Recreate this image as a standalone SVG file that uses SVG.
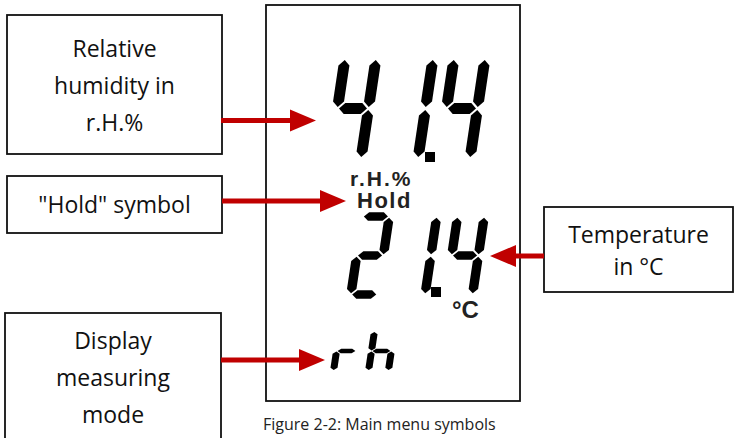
<svg xmlns="http://www.w3.org/2000/svg" xmlns:xlink="http://www.w3.org/1999/xlink" width="736" height="438" viewBox="0 0 736 438">
<style>
.box{fill:#fff;stroke:#111;stroke-width:1.8}
.lbl{font-family:"Open Sans","Liberation Sans",sans-serif;font-size:23px;fill:#111;text-anchor:middle}
.lcdt{font-family:"Liberation Sans","DejaVu Sans",sans-serif;font-weight:bold;fill:#222}
.cap{font-family:"Open Sans","Liberation Sans",sans-serif;font-size:16px;fill:#222}
.arr{stroke:#c00000;stroke-width:5;fill:none;marker-end:url(#head)}
.seg{fill:#000}
</style>
<defs>
<marker id="head" markerUnits="userSpaceOnUse" markerWidth="27" markerHeight="23" refX="0" refY="11" orient="auto" overflow="visible">
<path d="M0,0 L26,11 L0,22 Z" fill="#c00000"/>
</marker>
<path id="sa" class="seg" d="M7,-50 L12.5,-55.5 L29.5,-55.5 L35,-50 L29.5,-44.5 L12.5,-44.5Z"/>
<path id="sg" class="seg" d="M7,0 L12.5,-5.5 L29.5,-5.5 L35,0 L29.5,5.5 L12.5,5.5Z"/>
<path id="sd" class="seg" d="M7,50 L12.5,44.5 L29.5,44.5 L35,50 L29.5,55.5 L12.5,55.5Z"/>
<path id="sf" class="seg" d="M5.5,-48.5 L11,-43 L11,-7 L5.5,-1.5 L0,-7 L0,-43Z"/>
<path id="se" class="seg" d="M5.5,1.5 L11,7 L11,43 L5.5,48.5 L0,43 L0,7Z"/>
<path id="sb" class="seg" d="M36.5,-48.5 L42,-43 L42,-7 L36.5,-1.5 L31,-7 L31,-43Z"/>
<path id="sc" class="seg" d="M36.5,1.5 L42,7 L42,43 L36.5,48.5 L31,43 L31,7Z"/>
</defs>
<rect width="736" height="438" fill="#fff"/>

<g id="lcd">
<rect x="266" y="5" width="254" height="396" class="box"/>
<g id="hum-digits">
<g transform="translate(332,108.5) skewX(-8.5)"><use href="#sf"/><use href="#sb"/><use href="#sg"/><use href="#sc"/></g>
<g transform="translate(389,108.5) skewX(-8.5)"><use href="#sb"/><use href="#sc"/></g>
<rect x="425" y="152" width="10" height="10" class="seg"/>
<g transform="translate(441,108.5) skewX(-8.5)"><use href="#sf"/><use href="#sb"/><use href="#sg"/><use href="#sc"/></g>
</g>
<text x="350" y="186" class="lcdt" font-size="21" letter-spacing="2">r.H.%</text>
<text x="357" y="208" class="lcdt" font-size="22" letter-spacing="1.5">Hold</text>
<g id="temp-digits">
<g transform="translate(352,255.5) skewX(-8.5) scale(0.86,0.78)"><use href="#sa"/><use href="#sb"/><use href="#sg"/><use href="#se"/><use href="#sd"/></g>
<g transform="translate(399.5,255.5) skewX(-8.5) scale(0.86,0.78)"><use href="#sb"/><use href="#sc"/></g>
<rect x="431" y="287" width="10" height="10" class="seg"/>
<g transform="translate(447,255.5) skewX(-8.5) scale(0.86,0.78)"><use href="#sf"/><use href="#sb"/><use href="#sg"/><use href="#sc"/></g>
</g>
<text x="452" y="318" class="lcdt" font-size="24">°C</text>
<g id="mode-digits">
<g transform="translate(333,351) skewX(-8.5) scale(0.64,0.39)"><use href="#sg"/><use href="#se"/></g>
<g transform="translate(368,351) skewX(-8.5) scale(0.64,0.39)"><use href="#sf"/><use href="#sg"/><use href="#se"/><use href="#sc"/></g>
</g>
</g>

<g id="node-humidity">
<rect x="7" y="15" width="215" height="139" class="box"/>
<text class="lbl" x="114.5" y="57">Relative</text>
<text class="lbl" x="114.5" y="94">humidity in</text>
<text class="lbl" x="114.5" y="131">r.H.%</text>
</g>
<g id="node-hold">
<rect x="7" y="176" width="215" height="57" class="box"/>
<text class="lbl" x="114.5" y="213">"Hold" symbol</text>
</g>
<g id="node-temperature">
<rect x="544" y="207" width="189" height="85" class="box"/>
<text class="lbl" x="638.5" y="243">Temperature</text>
<text class="lbl" x="638.5" y="275">in °C</text>
</g>
<g id="node-mode">
<rect x="5" y="313" width="216" height="135" class="box"/>
<text class="lbl" x="113" y="349">Display</text>
<text class="lbl" x="113" y="386">measuring</text>
<text class="lbl" x="113" y="423">mode</text>
</g>

<g id="connectors">
<path class="arr" d="M221,120.5 H290"/>
<path class="arr" d="M222,201 H320"/>
<path class="arr" d="M544,256 H516"/>
<path class="arr" d="M221,360 H299"/>
</g>

<text class="cap" x="263" y="430">Figure 2-2: Main menu symbols</text>
</svg>
